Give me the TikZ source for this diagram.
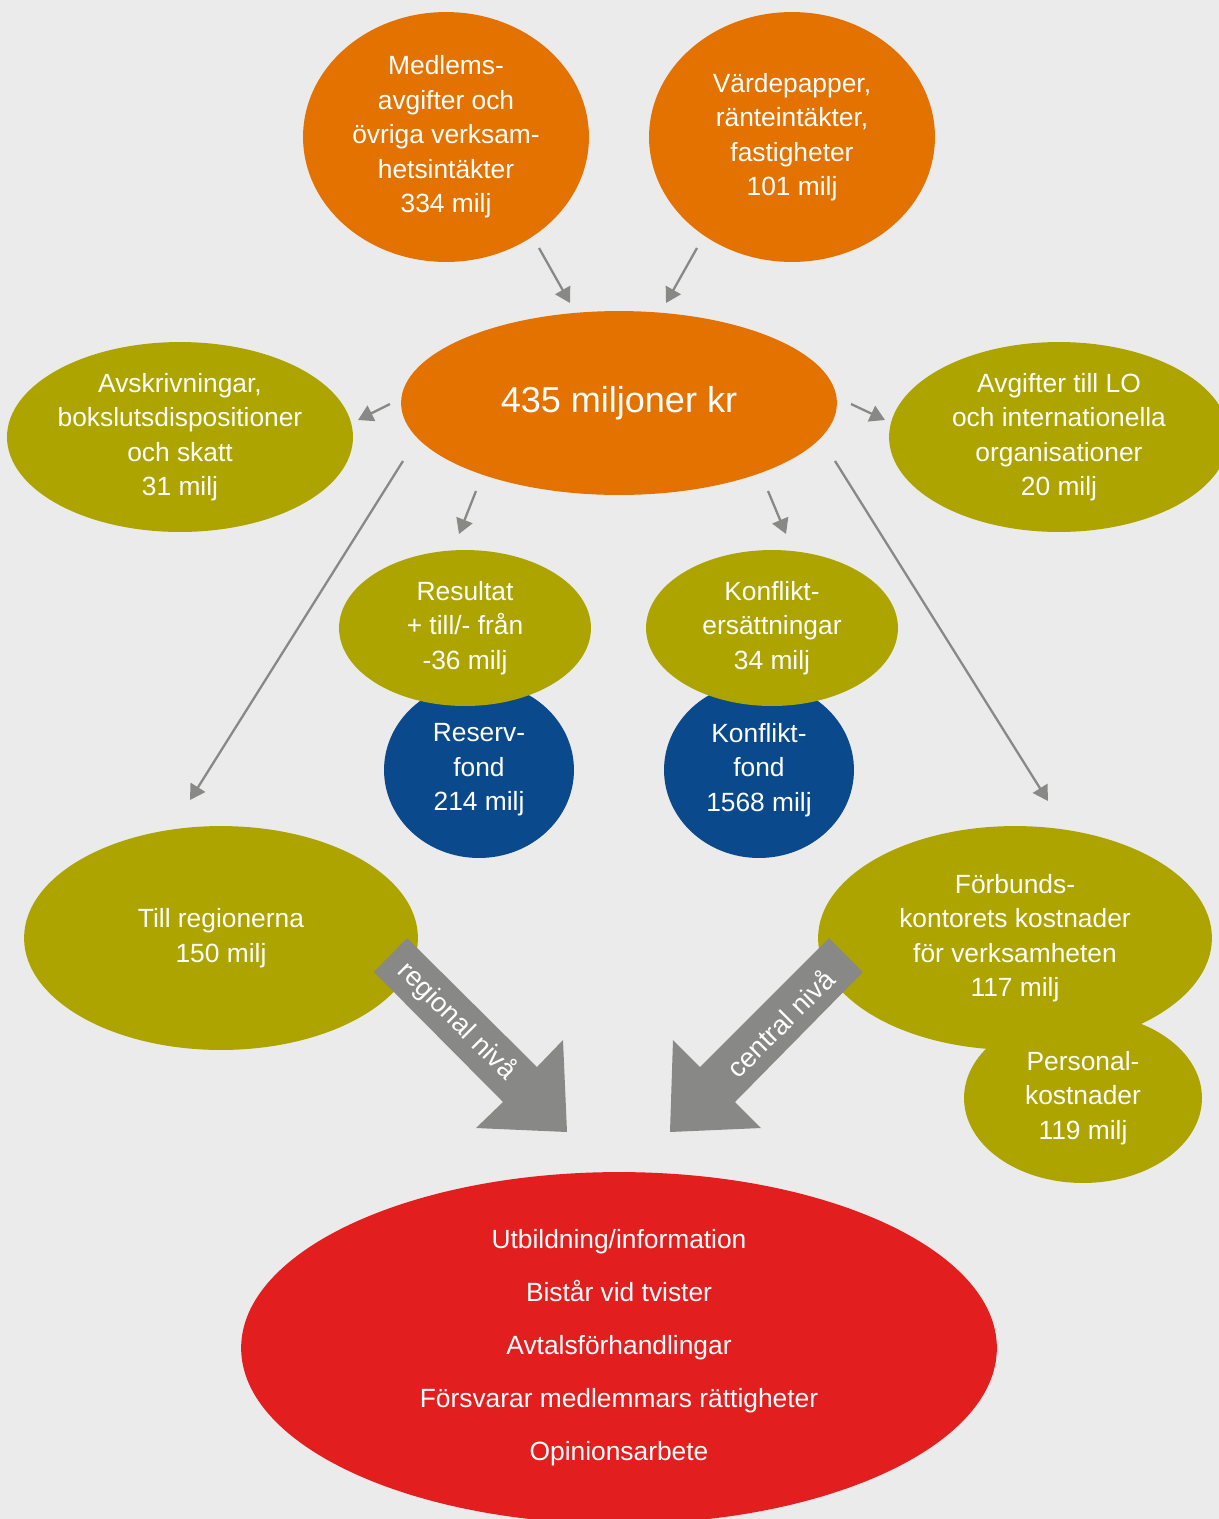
\documentclass[tikz,border=0pt]{standalone}
\usepackage{fontspec}
\setmainfont{Liberation Sans}
\usetikzlibrary{arrows.meta, calc, shapes.geometric}
\definecolor{bgGrey}{HTML}{EBEBEB}
\definecolor{fundOrange}{HTML}{E37200}
\definecolor{fundOlive}{HTML}{ADA400}
\definecolor{fundBlue}{HTML}{0A4A8C}
\definecolor{fundRed}{HTML}{E31E1F}
\definecolor{arrowGrey}{HTML}{888886}
\tikzset{
  % ellipse: colour, x radius, y radius (in px)
  blob/.style n args={3}{ellipse, fill=#1, inner sep=0pt,
    minimum width=#2*0.04cm, minimum height=#3*0.04cm,
    text=white, align=center, font=\fontsize{15}{19.6}\selectfont},
  flowArrow/.style={-{Triangle[length=3mm, width=3.4mm]}, draw=arrowGrey, line width=1.3pt},
  bigArrow/.style={fill=arrowGrey},
  arrowText/.style={text=white, font=\fontsize{15.5}{18}\selectfont}
}

\begin{document}
\begin{tikzpicture}[x=0.02cm, y=-0.02cm]
  \useasboundingbox (0,0) rectangle (1219,1519);
  \fill[bgGrey] (0,0) rectangle (1219,1519);

  %% --- INNTÄKTER ---
  \node[blob={fundOrange}{143}{125}] (med) at (446,137)
    {Medlems-\\avgifter och\\övriga verksam-\\hetsintäkter\\334 milj};
  \node[blob={fundOrange}{143}{125}] (val) at (792,137)
    {Värdepapper,\\ränteintäkter,\\fastigheter\\101 milj};

  %% --- SUMMA ---
  \node[blob={fundOrange}{218}{92}, font=\fontsize{20.5}{24}\selectfont] (sum) at (619,403)
    {435 miljoner kr};

  %% --- UTGIFTER ---
  \node[blob={fundOlive}{170}{95}] (avs) at (180,437)
    {Avskrivningar,\\bokslutsdispositioner\\och skatt\\31 milj};
  \node[blob={fundOlive}{170}{95}] (lo) at (1059,437)
    {Avgifter till LO\\och internationella\\organisationer\\20 milj};

  % Fonder (bakom)
  \node[blob={fundBlue}{95}{88}] (resfond) at (479,770) {Reserv-\\fond\\214 milj};
  \node[blob={fundBlue}{95}{88}] (konfond) at (759,770) {Konflikt-\\fond\\1568 milj};
  \node[blob={fundOlive}{126}{78}] (res) at (465,628) {Resultat\\+ till/- från\\-36 milj};
  \node[blob={fundOlive}{126}{78}] (kon) at (772,628) {Konflikt-\\ersättningar\\34 milj};

  \node[blob={fundOlive}{197}{112}] (reg) at (221,938) {Till regionerna\\150 milj};
  \node[blob={fundOlive}{197}{112}] (frb) at (1015,938)
    {Förbunds-\\kontorets kostnader\\för verksamheten\\117 milj};
  \node[blob={fundOlive}{119}{85}] (pers) at (1083,1098) {Personal-\\kostnader\\119 milj};

  %% --- VERKSAMHET ---
  \node[blob={fundRed}{378}{176}, font=\fontsize{15}{30.2}\selectfont] (verk) at (619,1348)
    {Utbildning/information\\Bistår vid tvister\\Avtalsförhandlingar\\Försvarar medlemmars rättigheter\\Opinionsarbete};

  %% --- PILAR ---
  \draw[flowArrow] ($(med)+(93,111)$) -- ($(sum)+(-49,-100)$);
  \draw[flowArrow] ($(val)+(-95,111)$) -- ($(sum)+(47,-100)$);
  \draw[flowArrow] ($(sum)+(-229,1)$) -- ($(avs)+(178,-17)$);
  \draw[flowArrow] ($(sum)+(232,1)$) -- ($(lo)+(-174,-17)$);
  \draw[flowArrow] ($(sum)+(-143,88)$) -- ($(res)+(-6,-94)$);
  \draw[flowArrow] ($(sum)+(149,88)$) -- ($(kon)+(14,-94)$);
  \draw[flowArrow] ($(sum)+(-216,58)$) -- ($(reg)+(-31,-138)$);
  \draw[flowArrow] ($(sum)+(216,58)$) -- ($(frb)+(33,-137)$);

  % Stora pilar
  \fill[bigArrow] (407,938) -- (537,1067) -- (563,1040) -- (567,1132)
    -- (476,1128) -- (503,1102) -- (374,972) -- cycle;
  \fill[bigArrow] (829,938) -- (700,1067) -- (673,1040) -- (670,1132)
    -- (761,1128) -- (735,1102) -- (863,972) -- cycle;
  \node[arrowText, rotate=-45] (regText) at (457,1021) {regional nivå};
  \node[arrowText, rotate=45] (cenText) at (780,1023) {central nivå};
\end{tikzpicture}
\end{document}
